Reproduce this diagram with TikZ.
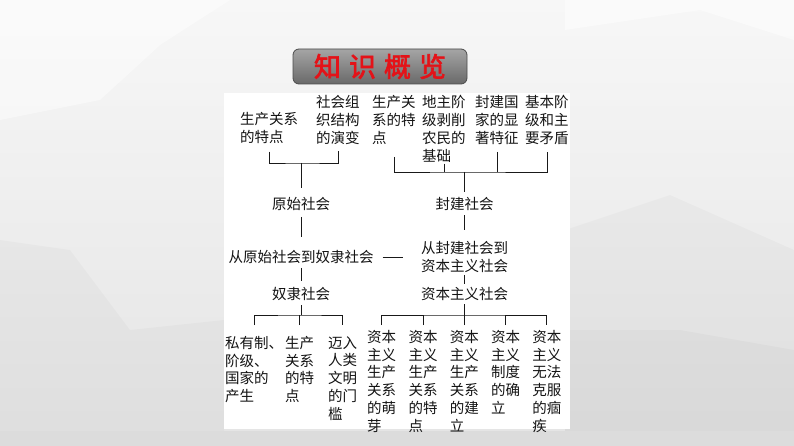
\documentclass[tikz,border=0pt]{standalone}
\usepackage{fontspec}
\newfontfamily\cjk{Noto Sans CJK SC}
\newfontfamily\cjktitle{Noto Sans CJK SC}[FakeBold=2.5]
\definecolor{bgtop}{RGB}{247,247,247}
\definecolor{bgbot}{RGB}{228,228,228}
\definecolor{bgfoot}{RGB}{220,220,220}
\definecolor{titletop}{RGB}{165,165,165}
\definecolor{titlebot}{RGB}{105,105,105}
\definecolor{titleedge}{RGB}{75,75,75}
\definecolor{titlered}{RGB}{228,18,24}
\definecolor{textc}{RGB}{20,20,20}
\definecolor{linec}{RGB}{25,25,25}

\begin{document}
\begin{tikzpicture}[x=1pt,y=-1pt,
		txt/.style={font=\cjk\fontsize{14.5}{17.8}\selectfont,inner sep=0pt,text=textc},
		blk/.style={txt,align=left,anchor=north west},
		link/.style={line width=0.9pt,draw=linec},
		facetlight/.style={fill=white,opacity=0.45},
		facetdark/.style={fill=black,opacity=0.025},
		titlebox/.style={draw=titleedge,line width=0.8pt,rounded corners=6pt,top color=titletop,bottom color=titlebot,
			minimum width=174pt,minimum height=35pt,font=\cjktitle\fontsize{27}{27}\selectfont,text=titlered}]
	\useasboundingbox (0,0) rectangle (794,446);
	\shade[top color=bgtop,bottom color=bgbot] (0,0) rectangle (794,446);
	\fill[facetlight] (0,0) -- (230,0) -- (160,45) -- (100,100) -- (0,120) -- cycle;
	\fill[facetlight] (565,0) -- (794,0) -- (794,40) -- (700,10) -- (565,30) -- cycle;
	\fill[facetdark] (0,240) -- (70,250) -- (130,330) -- (224,320) -- (224,446) -- (0,446) -- cycle;
	\fill[facetdark] (565,230) -- (670,195) -- (794,250) -- (794,446) -- (565,446) -- cycle;
	\fill[facetdark] (565,330) -- (680,330) -- (794,350) -- (794,446) -- (565,446) -- cycle;
	\fill[bgfoot] (0,431) rectangle (794,446);
	\fill[white] (224,93) rectangle (570,429);

	\node[titlebox] (title) at (380,66.5) {知\hspace{8pt}识\hspace{8pt}概\hspace{8pt}览};

	\node[blk] (relA) at (240,112) {生产关系\\的特点};
	\node[blk] (orgA) at (316,95.5) {社会组\\织结构\\的演变};
	\node[blk] (relF) at (372,95.5) {生产关\\系的特\\点};
	\node[blk] (landF) at (422,95.5) {地主阶\\级剥削\\农民的\\基础};
	\node[blk] (stateF) at (475,95.5) {封建国\\家的显\\著特征};
	\node[blk] (classF) at (525,95.5) {基本阶\\级和主\\要矛盾};

	\node[txt] (prim) at (301,203.5) {原始社会};
	\node[txt] (transA) at (301,257) {从原始社会到奴隶社会};
	\node[txt] (slave) at (301,293.5) {奴隶社会};
	\node[txt] (feud) at (464.5,203.5) {封建社会};
	\node[txt,align=center] (transB) at (464.5,257) {从封建社会到\\资本主义社会};
	\node[txt] (cap) at (464.5,293.5) {资本主义社会};

	\node[blk] (sA) at (225,336) {私有制、\\阶级、\\国家的\\产生};
	\node[blk] (sB) at (285,336) {生产\\关系\\的特\\点};
	\node[blk] (sC) at (328,336) {迈入\\人类\\文明\\的门\\槛};
	\foreach \s [count=\n] in {{资本\\主义\\生产\\关系\\的萌\\芽},{资本\\主义\\生产\\关系\\的特\\点},{资本\\主义\\生产\\关系\\的建\\立},{资本\\主义\\制度\\的确\\立},{资本\\主义\\无法\\克服\\的痼\\疾}}
		\node[blk] (c\n) at (325.7+41.3*\n,330) {\s};

	\coordinate (busP) at (301,163);
	\coordinate (busF) at (464.5,172);
	\coordinate (busS) at (301,315);
	\coordinate (busC) at (464.5,315);

	\draw[link,shorten <=8pt,shorten >=6pt] (relA.south) |- (busP) -| (orgA.south);
	\draw[link,shorten >=9pt] (busP) -- (prim);
	\draw[link,shorten <=6.5pt,shorten >=13pt] (prim) -- (transA);
	\draw[link,shorten <=4pt,shorten >=6pt] (transA) -- (slave);
	\draw[link,shorten <=5pt] (slave) -- (busS);
	\draw[link,shorten <=11pt,shorten >=11pt] (sA.north) |- (busS) -| (sC.north);
	\draw[link,shorten <=11pt] (sB.north) -- (sB.north |- busS);

	\draw[link,shorten <=12pt,shorten >=7pt] (relF.south) |- (busF) -| (classF.south);
	\draw[link,shorten <=1pt] (landF.south) -- (landF.south |- busF);
	\draw[link,shorten <=7pt] (stateF.south) -- (stateF.south |- busF);
	\draw[link,shorten >=5pt] (busF) -- (feud);
	\draw[link,shorten <=5pt,shorten >=11pt] (feud) -- (transB);
	\draw[link,shorten <=2pt,shorten >=3pt] (transB) -- (cap);
	\draw[link,shorten <=4pt] (cap) -- (busC);
	\draw[link,shorten <=5pt,shorten >=5pt] (c1.north) |- (busC) -| (c5.north);
	\foreach \n in {2,3,4}
		\draw[link,shorten <=5pt] (c\n.north) -- (c\n.north |- busC);

	\draw[link,shorten <=9pt,shorten >=18pt] (transA) -- (transB);
\end{tikzpicture}
\end{document}
